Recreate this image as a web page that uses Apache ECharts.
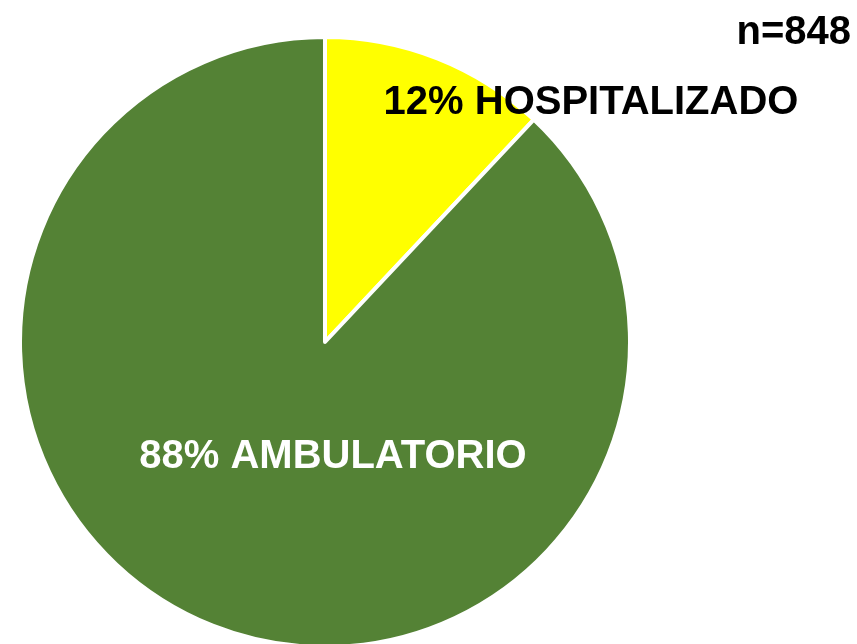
<!DOCTYPE html>
<html>
<head>
<meta charset="utf-8">
<script src="https://cdn.jsdelivr.net/npm/echarts@6/dist/echarts.min.js"></script>
<style>
  html, body { margin: 0; padding: 0; background: #fff; }
  #main { width: 857px; height: 644px; }
</style>
</head>
<body>
<div id="main"></div>
<script>
// datos
const categories = ['HOSPITALIZADO', 'AMBULATORIO']
const values = [12, 88]
const colors = ['#FFFF00', '#548235']
const totalN = 848

let chart = echarts.init(document.getElementById('main'))
let pieData = categories.map((name, i) => ({
  name: name,
  value: values[i],
  itemStyle: { color: colors[i] }
}))

const font = '"Liberation Sans", Arial, sans-serif'
let option = {
  animation: false,
  graphic: [
    {
      type: 'text',
      x: 851,
      y: 33,
      style: {
        text: 'n=' + totalN,
        font: 'bold 40px ' + font,
        fill: '#000',
        align: 'right',
        verticalAlign: 'middle'
      },
      z: 100
    },
    {
      type: 'text',
      x: 591,
      y: 103,
      style: {
        text: values[0] + '% ' + categories[0],
        font: 'bold 40px ' + font,
        fill: '#000',
        align: 'center',
        verticalAlign: 'middle'
      },
      z: 100
    },
    {
      type: 'text',
      x: 333,
      y: 457,
      style: {
        text: values[1] + '% ' + categories[1],
        font: 'bold 40px ' + font,
        fill: '#fff',
        align: 'center',
        verticalAlign: 'middle'
      },
      z: 100
    }
  ],
  series: [
    {
      type: 'pie',
      center: [325, 342],
      radius: [0, 305],
      startAngle: 90,
      clockwise: true,
      label: { show: false },
      labelLine: { show: false },
      emphasis: { disabled: true },
      itemStyle: { borderColor: '#fff', borderWidth: 4 },
      data: pieData
    }
  ]
}
chart.setOption(option)
</script>
</body>
</html>
